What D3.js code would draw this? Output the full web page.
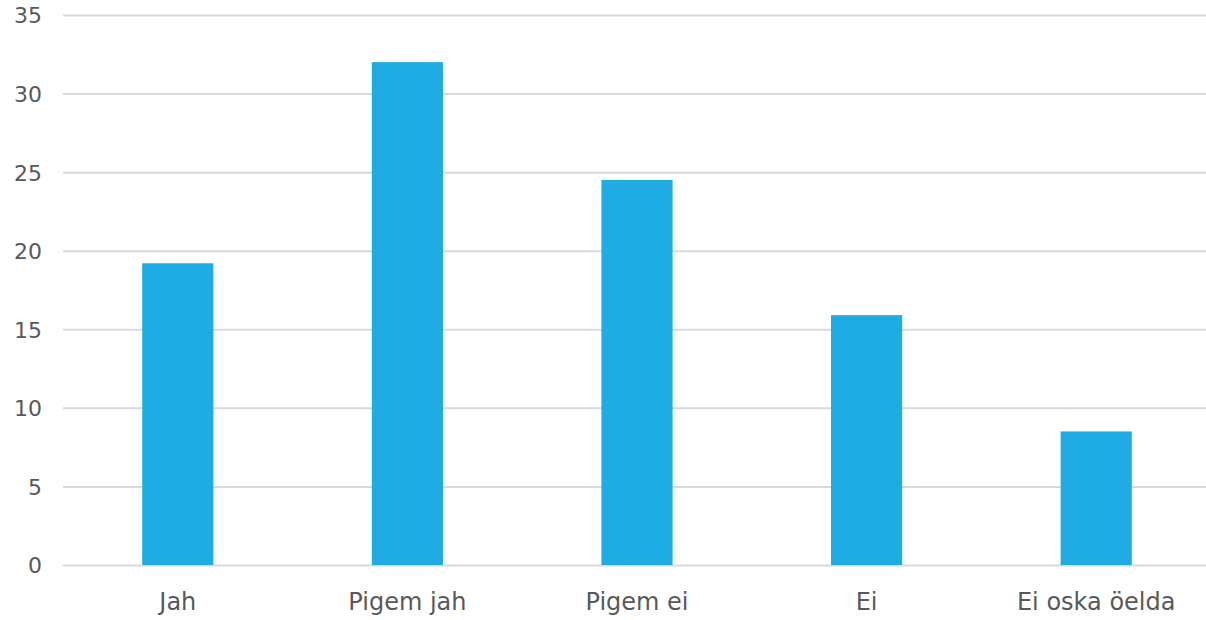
<!DOCTYPE html>
<html>
<head>
<meta charset="utf-8">
<script src="https://cdn.jsdelivr.net/npm/d3@7"></script>
<style>
  body { margin: 0; background: #fff; }
  .grid line { stroke: #d9d9d9; stroke-width: 2; }
  .grid path { display: none; }
  .axis text { fill: #595959; font-family: "DejaVu Sans", sans-serif; }
  .axis path, .axis line { display: none; }
</style>
</head>
<body>
<div id="chart"></div>
<script>
// data
var categories = ["Jah", "Pigem jah", "Pigem ei", "Ei", "Ei oska öelda"];
var values = [19.2, 32, 24.5, 15.9, 8.5];
var yTicks = [0, 5, 10, 15, 20, 25, 30, 35];

var width = 1206, height = 620;

var svg = d3.select("#chart")
    .append("svg")
    .attr("width", width)
    .attr("height", height);

var x = d3.scaleBand()
    .domain(categories)
    .range([63, 1211])
    .paddingInner(0.69)
    .paddingOuter(0.345);

var y = d3.scaleLinear()
    .domain([0, 35])
    .range([565, 15]);

// gridlines
svg.append("g")
    .attr("class", "grid")
    .attr("transform", "translate(63,0)")
    .call(d3.axisLeft(y)
        .tickValues(yTicks)
        .tickSize(-(width - 63))
        .tickFormat(""));

// y axis labels
svg.append("g")
    .attr("class", "axis")
    .attr("transform", "translate(42,0)")
    .call(d3.axisLeft(y).tickValues(yTicks).tickSize(0).tickPadding(0))
    .selectAll("text")
    .style("font-size", "22px")
    .attr("dy", "0.36em");

// bars
svg.selectAll(".bar")
    .data(values)
    .enter()
    .append("rect")
    .attr("class", "bar")
    .attr("x", function (d, i) { return x(categories[i]); })
    .attr("y", function (d) { return y(d); })
    .attr("width", x.bandwidth())
    .attr("height", function (d) { return y(0) - y(d); })
    .style("fill", "#1eace3");

// x axis labels
svg.append("g")
    .attr("class", "axis")
    .attr("transform", "translate(0,565)")
    .call(d3.axisBottom(x).tickSize(0))
    .selectAll("text")
    .style("font-size", "24px")
    .attr("y", 45)
    .attr("dy", "0");
</script>
</body>
</html>
